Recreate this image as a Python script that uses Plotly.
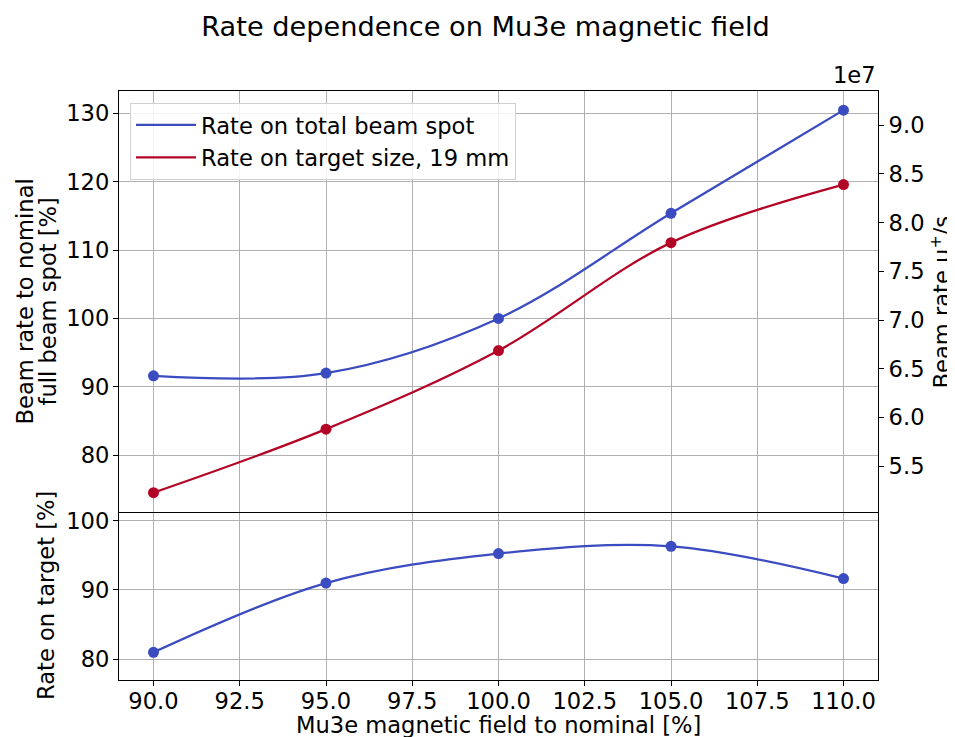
import plotly.graph_objects as go

# ---------------- data ----------------
field = [90, 95, 100, 105, 110]
rate_total = [91.6, 92.0, 100.0, 115.4, 130.5]        # % of nominal, full beam spot
rate_target = [74.5, 83.8, 95.3, 111.1, 119.6]        # % of nominal, 19 mm target
rate_on_target = [81.0, 91.0, 95.25, 96.3, 91.65]     # % of beam on target
nominal_rate = 7.016e7                                 # mu+/s at 100 %

x_ticks = [90.0, 92.5, 95.0, 97.5, 100.0, 102.5, 105.0, 107.5, 110.0]
top_left_ticks = [80, 90, 100, 110, 120, 130]
bottom_ticks = [80, 90, 100]
right_ticks = [5.5, 6.0, 6.5, 7.0, 7.5, 8.0, 8.5, 9.0]  # x 1e7

BLUE = "#3b4cc0"
RED = "#b40426"
GRID = "#b0b0b0"
FONT = "DejaVu Sans"
FS = 22.6

top_range = [71.67, 133.3]
bottom_range = [77.0, 101.26]
split = 168 / 589

fig = go.Figure()

fig.add_trace(go.Scatter(x=field, y=rate_total, mode="lines", name="Rate on total beam spot",
                         line=dict(color=BLUE, width=2.3, shape="spline", smoothing=1.0),
                         xaxis="x2", yaxis="y2", hoverinfo="skip"))
fig.add_trace(go.Scatter(x=field, y=rate_target, mode="lines", name="Rate on target size, 19 mm",
                         line=dict(color=RED, width=2.3, shape="spline", smoothing=1.0),
                         xaxis="x2", yaxis="y2", hoverinfo="skip"))
fig.add_trace(go.Scatter(x=field, y=rate_total, mode="markers", showlegend=False,
                         marker=dict(color=BLUE, size=11), xaxis="x2", yaxis="y2"))
fig.add_trace(go.Scatter(x=field, y=rate_target, mode="markers", showlegend=False,
                         marker=dict(color=RED, size=11), xaxis="x2", yaxis="y2"))
# absolute rate on right axis (invisible, defines the axis)
fig.add_trace(go.Scatter(x=field, y=[r * nominal_rate / 100 for r in rate_total], mode="lines",
                         showlegend=False, line=dict(width=0, color="rgba(0,0,0,0)"),
                         xaxis="x2", yaxis="y3", hoverinfo="skip"))

fig.add_trace(go.Scatter(x=field, y=rate_on_target, mode="lines", showlegend=False,
                         line=dict(color=BLUE, width=2.3, shape="spline", smoothing=1.0),
                         xaxis="x", yaxis="y", hoverinfo="skip"))
fig.add_trace(go.Scatter(x=field, y=rate_on_target, mode="markers", showlegend=False,
                         marker=dict(color=BLUE, size=11), xaxis="x", yaxis="y"))

tickfont = dict(family=FONT, size=FS, color="black")
axis_common = dict(showline=True, linecolor="black", linewidth=1.2, mirror=True,
                   ticks="outside", ticklen=5, tickcolor="black", tickwidth=1.2,
                   gridcolor=GRID, gridwidth=1.1, showgrid=True, zeroline=False,
                   automargin=False, tickfont=tickfont)

# the page is drawn with an 8 px body offset, so margins compensate for it
OFF = 8
fig.update_layout(
    width=955, height=737,
    paper_bgcolor="white", plot_bgcolor="white",
    margin=dict(l=119 - OFF, r=77 + OFF, t=91 - OFF, b=57 + OFF, autoexpand=False),
    font=dict(family=FONT, size=FS, color="black"),
    title=dict(text="Rate dependence on Mu3e magnetic field", x=0.5, xanchor="center",
               y=1 - (26 - OFF) / 737, yanchor="middle", yref="container", automargin=False,
               font=dict(family=FONT, size=27.2, color="black")),
    xaxis=dict(domain=[0, 1], anchor="y", range=[89, 111], tickvals=x_ticks, tickformat=".1f",
               ticklabelstandoff=-4, **{k: v for k, v in axis_common.items() if k != "mirror"},
               mirror=False),
    yaxis=dict(domain=[0, split], anchor="x", range=bottom_range, tickvals=bottom_ticks,
               ticklabelstandoff=-1, **axis_common),
    xaxis2=dict(domain=[0, 1], anchor="y2", range=[89, 111], tickvals=x_ticks,
                showticklabels=False, matches="x",
                **{k: v for k, v in axis_common.items() if k not in ("ticks",)}, ticks=""),
    yaxis2=dict(domain=[split, 1], anchor="x2", range=top_range, tickvals=top_left_ticks,
                ticklabelstandoff=-1, **axis_common),
    yaxis3=dict(overlaying="y2", side="right", anchor="x2",
                range=[v * nominal_rate / 100 for v in top_range],
                tickvals=[v * 1e7 for v in right_ticks],
                ticktext=[f"{v:.1f}" for v in right_ticks],
                showgrid=False, showline=True, linecolor="black", linewidth=1.2,
                ticks="outside", ticklen=5, tickcolor="black", tickwidth=1.2, zeroline=False,
                automargin=False, tickfont=tickfont),
    legend=dict(x=0.0145, y=0.98, xanchor="left", yanchor="top", itemwidth=60,
                bgcolor="rgba(255,255,255,0.85)", bordercolor="#d0d0d0", borderwidth=1,
                font=dict(family=FONT, size=FS, color="black"), tracegroupgap=0),
    showlegend=True,
)

afont = dict(family=FONT, size=FS, color="black")
top_mid = split + (1 - split) / 2
annotations = [
    dict(text="1e7", xref="paper", yref="paper", x=1.0, y=1.0, xanchor="right", yanchor="bottom",
         yshift=1, showarrow=False, font=afont),
    dict(text="Beam rate to nominal", xref="paper", yref="paper",
         x=(24 - 119) / 759, y=top_mid, xanchor="center", yanchor="middle",
         textangle=-90, showarrow=False, font=afont),
    dict(text="full beam spot [%]", xref="paper", yref="paper",
         x=(47 - 119) / 759, y=top_mid, xanchor="center", yanchor="middle",
         textangle=-90, showarrow=False, font=afont),
    dict(text="Rate on target [%]", xref="paper", yref="paper",
         x=(46 - 119) / 759, y=split / 2, xanchor="center", yanchor="middle",
         textangle=-90, showarrow=False, font=afont),
    dict(text="Beam rate μ<sup>+</sup>/s", xref="paper", yref="paper",
         x=(940 - 119) / 759, y=top_mid, xanchor="center", yanchor="middle",
         textangle=-90, showarrow=False, font=afont),
    dict(text="Mu3e magnetic field to nominal [%]", xref="paper", yref="paper",
         x=0.5, y=(680 - 724.5) / 589, xanchor="center", yanchor="middle",
         showarrow=False, font=afont),
]
fig.update_layout(annotations=annotations)

fig.write_html("out.html")
